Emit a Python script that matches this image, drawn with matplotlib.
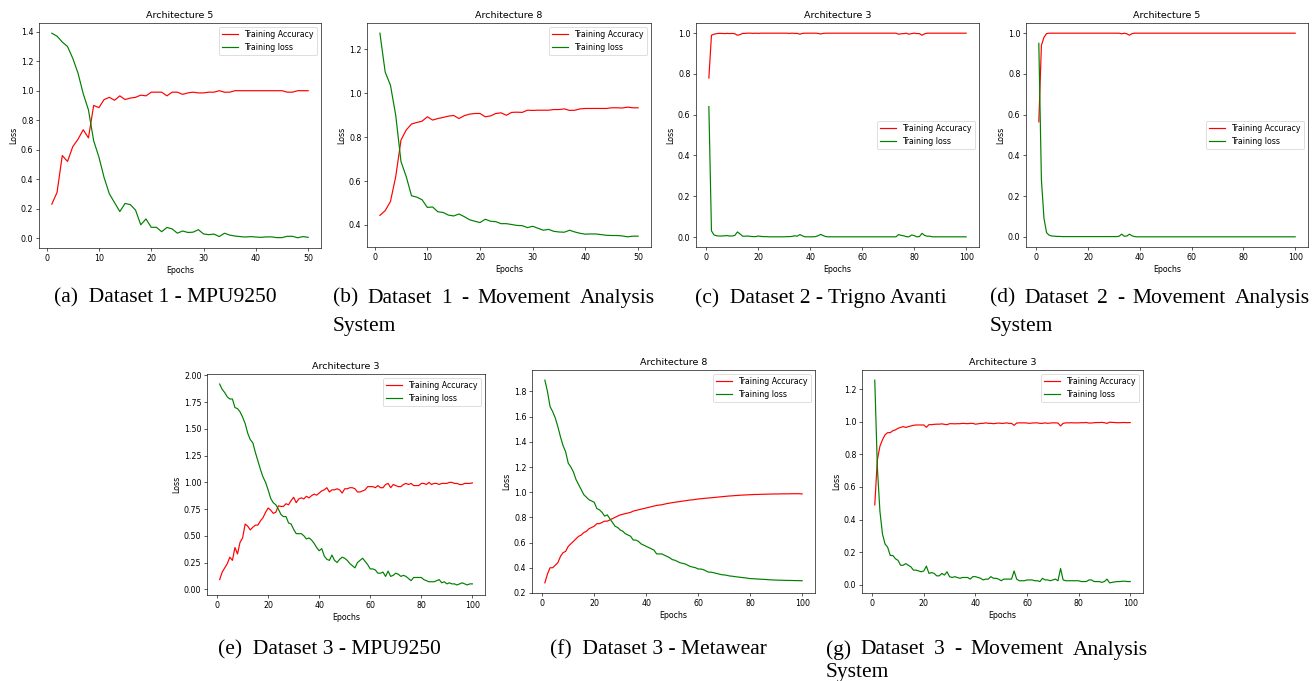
import matplotlib
matplotlib.use("Agg")
import matplotlib.pyplot as plt

# scale factor of the original small matplotlib figures
s = 0.57
plt.rcParams.update({
    "font.size": 10 * s,
    "axes.titlesize": 12 * s,
    "axes.labelsize": 10 * s,
    "xtick.labelsize": 10 * s,
    "ytick.labelsize": 10 * s,
    "legend.fontsize": 10 * s,
    "lines.linewidth": 1.5 * s,
    "axes.linewidth": 0.8 * s,
    "patch.linewidth": 1.0 * s,
    "xtick.major.size": 3.5 * s,
    "ytick.major.size": 3.5 * s,
    "xtick.major.width": 0.8 * s,
    "ytick.major.width": 0.8 * s,
    "xtick.major.pad": 3.5 * s,
    "ytick.major.pad": 3.5 * s,
    "axes.titlepad": 6 * s,
    "axes.labelpad": 4 * s,
})

# (a) Dataset 1 - MPU9250, Architecture 5
acc_a = [0.23, 0.31, 0.56, 0.52, 0.62, 0.67, 0.735, 0.68, 0.90, 0.885,
         0.94, 0.955, 0.935, 0.965, 0.94, 0.95, 0.955, 0.97, 0.965, 0.99,
         0.99, 0.99, 0.965, 0.99, 0.99, 0.975, 0.985, 0.99, 0.985, 0.985,
         0.99, 0.99, 1.0, 0.99, 0.99, 1.0, 1.0, 1.0, 1.0, 1.0,
         1.0, 1.0, 1.0, 1.0, 1.0, 0.99, 0.99, 1.0, 1.0, 1.0]
loss_a = [1.39, 1.37, 1.33, 1.30, 1.22, 1.12, 0.98, 0.87, 0.66, 0.55,
          0.41, 0.30, 0.24, 0.18, 0.235, 0.227, 0.19, 0.09, 0.13, 0.073,
          0.073, 0.043, 0.072, 0.062, 0.033, 0.048, 0.038, 0.04, 0.057, 0.028,
          0.023, 0.027, 0.01, 0.033, 0.02, 0.014, 0.01, 0.007, 0.01, 0.007,
          0.005, 0.008, 0.008, 0.003, 0.003, 0.012, 0.012, 0.002, 0.01, 0.005]

# (b) Dataset 1 - Movement Analysis System, Architecture 8
acc_b = [0.444, 0.465, 0.507, 0.62, 0.787, 0.833, 0.86, 0.867, 0.873, 0.893,
         0.878, 0.885, 0.89, 0.896, 0.899, 0.885, 0.898, 0.905, 0.908, 0.908,
         0.893, 0.897, 0.908, 0.911, 0.90, 0.913, 0.914, 0.913, 0.923, 0.922,
         0.923, 0.923, 0.923, 0.926, 0.926, 0.929, 0.922, 0.923, 0.929, 0.931,
         0.931, 0.931, 0.931, 0.931, 0.934, 0.934, 0.933, 0.937, 0.934, 0.934]
loss_b = [1.274, 1.097, 1.037, 0.90, 0.689, 0.62, 0.533, 0.527, 0.515, 0.48,
          0.482, 0.46, 0.457, 0.445, 0.441, 0.45, 0.438, 0.424, 0.417, 0.411,
          0.426, 0.417, 0.415, 0.406, 0.406, 0.402, 0.398, 0.397, 0.388, 0.394,
          0.385, 0.376, 0.38, 0.371, 0.368, 0.367, 0.376, 0.368, 0.362, 0.358,
          0.359, 0.359, 0.356, 0.353, 0.352, 0.352, 0.35, 0.346, 0.349, 0.349]

# (c) Dataset 2 - Trigno Avanti, Architecture 3
acc_c = [0.78, 0.99, 0.995, 0.998, 0.999, 0.999, 0.998, 0.999, 0.998, 0.999,
         0.997, 0.99, 0.993, 0.999, 0.999, 1.0, 1.0, 0.999, 1.0, 0.999,
         1.0, 1.0, 1.0, 1.0, 1.0, 1.0, 1.0, 1.0, 1.0, 1.0,
         1.0, 0.999, 1.0, 0.999, 0.999, 0.995, 0.999, 1.0, 1.0, 1.0,
         1.0, 1.0, 0.999, 0.996, 0.999, 1.0, 1.0, 1.0, 1.0, 1.0,
         1.0, 1.0, 1.0, 1.0, 1.0, 1.0, 1.0, 1.0, 1.0, 1.0,
         1.0, 1.0, 1.0, 1.0, 1.0, 1.0, 1.0, 1.0, 1.0, 1.0,
         1.0, 1.0, 1.0, 0.995, 0.997, 0.998, 1.0, 0.995, 0.998, 1.0,
         0.998, 0.998, 0.99, 0.997, 1.0, 1.0, 1.0, 1.0, 1.0, 1.0,
         1.0, 1.0, 1.0, 1.0, 1.0, 1.0, 1.0, 1.0, 1.0, 1.0]
loss_c = [0.64, 0.03, 0.01, 0.006, 0.005, 0.005, 0.006, 0.007, 0.005, 0.005,
          0.008, 0.025, 0.015, 0.004, 0.004, 0.005, 0.003, 0.002, 0.002, 0.005,
          0.003, 0.002, 0.002, 0.001, 0.001, 0.001, 0.001, 0.001, 0.001, 0.001,
          0.002, 0.002, 0.003, 0.006, 0.004, 0.012, 0.006, 0.001, 0.001, 0.001,
          0.001, 0.002, 0.006, 0.013, 0.007, 0.002, 0.001, 0.001, 0.001, 0.001,
          0.001, 0.001, 0.001, 0.001, 0.001, 0.001, 0.001, 0.001, 0.001, 0.001,
          0.001, 0.001, 0.001, 0.001, 0.001, 0.001, 0.001, 0.001, 0.001, 0.001,
          0.001, 0.001, 0.001, 0.012, 0.008, 0.006, 0.002, 0.001, 0.01, 0.007,
          0.001, 0.002, 0.018, 0.008, 0.004, 0.004, 0.001, 0.001, 0.001, 0.001,
          0.001, 0.001, 0.001, 0.001, 0.001, 0.001, 0.001, 0.001, 0.001, 0.001]

# (d) Dataset 2 - Movement Analysis System, Architecture 5
acc_d = [0.565, 0.94, 0.98, 0.998, 1.0, 1.0, 1.0, 1.0, 1.0, 1.0,
         1.0, 1.0, 1.0, 1.0, 1.0, 1.0, 1.0, 1.0, 1.0, 1.0,
         1.0, 1.0, 1.0, 1.0, 1.0, 1.0, 1.0, 1.0, 1.0, 1.0,
         1.0, 1.0, 0.997, 1.0, 0.997, 0.99, 0.998, 1.0, 1.0, 1.0,
         1.0, 1.0, 1.0, 1.0, 1.0, 1.0, 1.0, 1.0, 1.0, 1.0,
         1.0, 1.0, 1.0, 1.0, 1.0, 1.0, 1.0, 1.0, 1.0, 1.0,
         1.0, 1.0, 1.0, 1.0, 1.0, 1.0, 1.0, 1.0, 1.0, 1.0,
         1.0, 1.0, 1.0, 1.0, 1.0, 1.0, 1.0, 1.0, 1.0, 1.0,
         1.0, 1.0, 1.0, 1.0, 1.0, 1.0, 1.0, 1.0, 1.0, 1.0,
         1.0, 1.0, 1.0, 1.0, 1.0, 1.0, 1.0, 1.0, 1.0, 1.0]
loss_d = [0.95, 0.28, 0.09, 0.02, 0.008, 0.004, 0.003, 0.002, 0.002, 0.001,
          0.001, 0.001, 0.001, 0.001, 0.001, 0.001, 0.001, 0.001, 0.001, 0.001,
          0.001, 0.001, 0.001, 0.001, 0.001, 0.001, 0.001, 0.001, 0.001, 0.001,
          0.001, 0.003, 0.013, 0.003, 0.004, 0.013, 0.005, 0.001, 0.0, 0.0,
          0.0, 0.0, 0.0, 0.0, 0.0, 0.0, 0.0, 0.0, 0.0, 0.0,
          0.0, 0.0, 0.0, 0.0, 0.0, 0.0, 0.0, 0.0, 0.0, 0.0,
          0.0, 0.0, 0.0, 0.0, 0.0, 0.0, 0.0, 0.0, 0.0, 0.0,
          0.0, 0.0, 0.0, 0.0, 0.0, 0.0, 0.0, 0.0, 0.0, 0.0,
          0.0, 0.0, 0.0, 0.0, 0.0, 0.0, 0.0, 0.0, 0.0, 0.0,
          0.0, 0.0, 0.0, 0.0, 0.0, 0.0, 0.0, 0.0, 0.0, 0.0]

# (e) Dataset 3 - MPU9250, Architecture 3
acc_e = [0.09, 0.16, 0.20, 0.24, 0.30, 0.27, 0.39, 0.33, 0.44, 0.48,
         0.61, 0.59, 0.555, 0.58, 0.60, 0.60, 0.64, 0.67, 0.72, 0.76,
         0.74, 0.71, 0.72, 0.78, 0.775, 0.775, 0.80, 0.79, 0.83, 0.86,
         0.81, 0.845, 0.855, 0.845, 0.87, 0.855, 0.875, 0.89, 0.88, 0.90,
         0.92, 0.93, 0.95, 0.91, 0.93, 0.93, 0.94, 0.93, 0.90, 0.94,
         0.94, 0.95, 0.95, 0.94, 0.91, 0.91, 0.92, 0.93, 0.96, 0.96,
         0.96, 0.95, 0.97, 0.95, 0.95, 0.98, 0.99, 0.95, 0.98, 0.97,
         0.96, 0.96, 0.98, 0.99, 0.98, 0.99, 0.97, 0.97, 0.97, 0.99,
         0.99, 0.98, 1.0, 0.98, 0.99, 0.99, 0.98, 0.99, 0.99, 0.99,
         1.0, 1.0, 0.99, 0.99, 0.98, 0.98, 0.99, 0.99, 0.99, 0.995]
loss_e = [1.92, 1.87, 1.84, 1.80, 1.78, 1.78, 1.70, 1.69, 1.66, 1.61,
          1.55, 1.46, 1.40, 1.37, 1.28, 1.20, 1.12, 1.05, 1.00, 0.93,
          0.85, 0.81, 0.79, 0.75, 0.70, 0.68, 0.68, 0.62, 0.61, 0.56,
          0.52, 0.52, 0.52, 0.50, 0.47, 0.48, 0.46, 0.43, 0.39, 0.36,
          0.38, 0.31, 0.28, 0.27, 0.32, 0.27, 0.25, 0.28, 0.30, 0.29,
          0.27, 0.24, 0.22, 0.20, 0.25, 0.27, 0.29, 0.26, 0.23, 0.19,
          0.19, 0.18, 0.15, 0.15, 0.16, 0.12, 0.17, 0.12, 0.13, 0.15,
          0.14, 0.12, 0.13, 0.12, 0.10, 0.08, 0.11, 0.11, 0.11, 0.11,
          0.09, 0.08, 0.07, 0.07, 0.07, 0.08, 0.09, 0.06, 0.07, 0.05,
          0.06, 0.05, 0.05, 0.04, 0.05, 0.06, 0.05, 0.04, 0.05, 0.05]

# (f) Dataset 3 - Metawear, Architecture 8
acc_f = [0.28, 0.35, 0.40, 0.40, 0.42, 0.44, 0.49, 0.52, 0.53, 0.57,
         0.59, 0.61, 0.63, 0.65, 0.66, 0.68, 0.69, 0.71, 0.72, 0.73,
         0.75, 0.75, 0.76, 0.77, 0.77, 0.78, 0.79, 0.80, 0.81, 0.82,
         0.825, 0.83, 0.835, 0.84, 0.85, 0.855, 0.86, 0.865, 0.87, 0.875,
         0.88, 0.885, 0.89, 0.895, 0.898, 0.90, 0.905, 0.91, 0.913, 0.917,
         0.92, 0.923, 0.926, 0.929, 0.932, 0.935, 0.938, 0.94, 0.943, 0.946,
         0.948, 0.95, 0.952, 0.954, 0.956, 0.958, 0.96, 0.962, 0.964, 0.966,
         0.968, 0.97, 0.971, 0.973, 0.974, 0.976, 0.977, 0.978, 0.979, 0.98,
         0.981, 0.982, 0.982, 0.983, 0.984, 0.984, 0.985, 0.985, 0.986, 0.986,
         0.986, 0.987, 0.987, 0.987, 0.987, 0.988, 0.988, 0.988, 0.988, 0.986]
loss_f = [1.89, 1.80, 1.68, 1.64, 1.59, 1.52, 1.44, 1.37, 1.32, 1.23,
          1.20, 1.16, 1.10, 1.06, 1.02, 0.98, 0.96, 0.94, 0.93, 0.92,
          0.87, 0.86, 0.84, 0.81, 0.82, 0.79, 0.76, 0.73, 0.72, 0.70,
          0.69, 0.67, 0.66, 0.65, 0.62, 0.62, 0.61, 0.59, 0.58, 0.57,
          0.56, 0.55, 0.54, 0.51, 0.51, 0.51, 0.50, 0.49, 0.48, 0.465,
          0.46, 0.45, 0.44, 0.435, 0.43, 0.42, 0.41, 0.405, 0.40, 0.39,
          0.39, 0.385, 0.375, 0.365, 0.365, 0.36, 0.355, 0.35, 0.345, 0.343,
          0.34, 0.335, 0.333, 0.33, 0.327, 0.325, 0.322, 0.32, 0.317, 0.314,
          0.313, 0.312, 0.31, 0.309, 0.308, 0.307, 0.305, 0.304, 0.303, 0.302,
          0.301, 0.301, 0.3, 0.3, 0.299, 0.299, 0.298, 0.298, 0.297, 0.297]

# (g) Dataset 3 - Movement Analysis System, Architecture 3
acc_g = [0.49, 0.766, 0.85, 0.89, 0.92, 0.933, 0.933, 0.945, 0.95, 0.96,
         0.965, 0.97, 0.965, 0.97, 0.974, 0.978, 0.98, 0.98, 0.98, 0.98,
         0.966, 0.982, 0.982, 0.984, 0.985, 0.985, 0.987, 0.984, 0.982, 0.988,
         0.988, 0.987, 0.988, 0.988, 0.99, 0.989, 0.988, 0.99, 0.99, 0.985,
         0.987, 0.99, 0.99, 0.993, 0.99, 0.99, 0.988, 0.99, 0.992, 0.99,
         0.99, 0.993, 0.99, 0.99, 0.978, 0.992, 0.993, 0.993, 0.993, 0.992,
         0.99, 0.992, 0.993, 0.993, 0.99, 0.99, 0.993, 0.99, 0.992, 0.993,
         0.993, 0.992, 0.974, 0.99, 0.993, 0.993, 0.994, 0.993, 0.993, 0.993,
         0.994, 0.994, 0.995, 0.992, 0.992, 0.994, 0.995, 0.995, 0.996, 0.994,
         0.99, 0.997, 0.996, 0.995, 0.994, 0.994, 0.995, 0.995, 0.994, 0.995]
loss_g = [1.255, 0.72, 0.45, 0.31, 0.25, 0.23, 0.18, 0.18, 0.16, 0.15,
          0.12, 0.12, 0.13, 0.12, 0.11, 0.09, 0.09, 0.085, 0.08, 0.085,
          0.115, 0.07, 0.075, 0.07, 0.055, 0.055, 0.07, 0.06, 0.08, 0.05,
          0.045, 0.05, 0.045, 0.04, 0.045, 0.045, 0.045, 0.035, 0.05, 0.05,
          0.045, 0.04, 0.03, 0.035, 0.035, 0.05, 0.04, 0.04, 0.035, 0.025,
          0.035, 0.035, 0.035, 0.035, 0.085, 0.035, 0.025, 0.025, 0.025, 0.03,
          0.03, 0.03, 0.025, 0.025, 0.02, 0.04, 0.03, 0.03, 0.025, 0.03,
          0.035, 0.025, 0.10, 0.03, 0.025, 0.025, 0.025, 0.025, 0.025, 0.025,
          0.02, 0.02, 0.02, 0.03, 0.03, 0.02, 0.02, 0.02, 0.015, 0.02,
          0.035, 0.012, 0.015, 0.018, 0.02, 0.02, 0.022, 0.022, 0.02, 0.02]

titles = ["Architecture 5", "Architecture 8", "Architecture 3", "Architecture 5",
          "Architecture 3", "Architecture 8", "Architecture 3"]
acc_all = [acc_a, acc_b, acc_c, acc_d, acc_e, acc_f, acc_g]
loss_all = [loss_a, loss_b, loss_c, loss_d, loss_e, loss_f, loss_g]
legend_locs = ["upper right", "upper right", "center right", "center right",
               "upper right", "upper right", "upper right"]

W, H = 1315, 681
fig = plt.figure(figsize=(W / 100, H / 100), dpi=100)

# axes boxes in pixels: left, top, right, bottom
boxes = [(39, 23, 321, 248), (367, 23, 651, 247), (696, 23, 979, 247),
         (1026, 23, 1308, 247), (207, 374, 485, 595), (532, 370, 815, 593),
         (862, 370, 1143, 593)]

for i in range(7):
    l, t, r, b = boxes[i]
    ax = fig.add_axes([l / W, 1 - b / H, (r - l) / W, (b - t) / H])
    epochs = list(range(1, len(acc_all[i]) + 1))
    ax.plot(epochs, acc_all[i], color="r", label="Training Accuracy")
    ax.plot(epochs, loss_all[i], color="g", label="Training loss")
    ax.set_title(titles[i])
    ax.set_xlabel("Epochs")
    ax.set_ylabel("Loss")
    ax.legend(loc=legend_locs[i])

# sub-captions in a Times-like font
cap_font = dict(family="Liberation Serif", size=15.5)


def centred(text, xc, y):
    fig.text(xc / W, 1 - y / H, text, ha="center", va="center", **cap_font)


def justified(words, x0, x1, y, second, y2):
    renderer = fig.canvas.get_renderer()
    items = [fig.text(0, 0, w, va="center", **cap_font) for w in words]
    widths = [it.get_window_extent(renderer).width for it in items]
    gap = (x1 - x0 - sum(widths)) / (len(words) - 1)
    x = x0
    for it, w in zip(items, widths):
        it.set_position((x / W, 1 - y / H))
        x += w + gap
    fig.text(x0 / W, 1 - y2 / H, second, va="center", **cap_font)


centred("(a)  Dataset 1 - MPU9250", 165, 298)
justified(["(b)", "Dataset", "1", "-", "Movement", "Analysis"], 333, 655, 298, "System", 327)
centred("(c)  Dataset 2 - Trigno Avanti", 821, 298)
justified(["(d)", "Dataset", "2", "-", "Movement", "Analysis"], 990, 1310, 298, "System", 327)
centred("(e)  Dataset 3 - MPU9250", 329, 650)
centred("(f)  Dataset 3 - Metawear", 658, 650)
justified(["(g)", "Dataset", "3", "-", "Movement", "Analysis"], 826, 1148, 650, "System", 673)

fig.savefig("out.png", dpi=100)
